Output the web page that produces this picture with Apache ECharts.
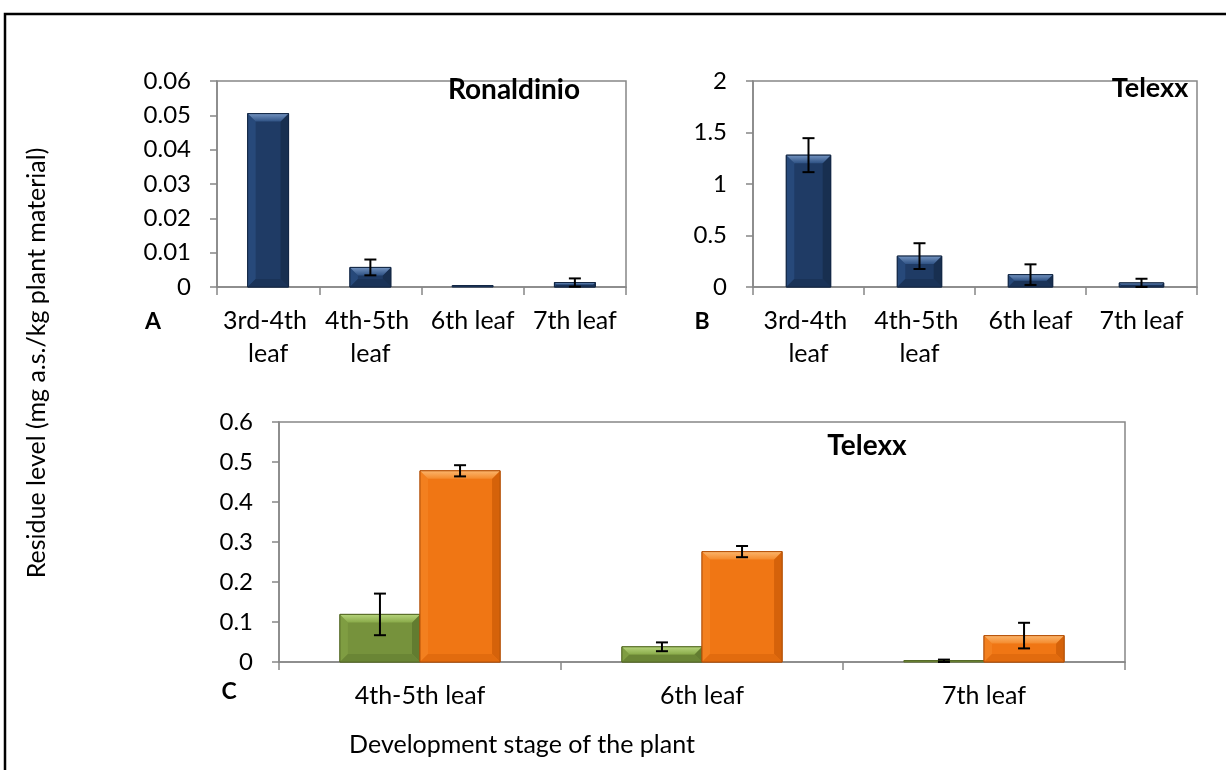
<!DOCTYPE html>
<html>
<head>
<meta charset="utf-8">
<title>Residue levels by development stage</title>
<script src="https://cdn.jsdelivr.net/npm/echarts@6/dist/echarts.min.js"></script>
<style>
  html, body { margin: 0; padding: 0; background: #ffffff; }
  #chart { width: 1226px; height: 770px; }
</style>
</head>
<body>
<div id="chart"></div>
<script>
// Panel A and B categories (leaf stages)
const stagesAB = ['3rd-4th leaf', '4th-5th leaf', '6th leaf', '7th leaf'];
// Panel A: Ronaldinio residues (mg a.s./kg) and their error half-widths
const ronaldinioValues = [0.0505, 0.0057, 0.0003, 0.0013];
const ronaldinioErrors = [0, 0.0023, 0, 0.0012];
// Panel B: Telexx residues
const telexxValues = [1.28, 0.30, 0.12, 0.04];
const telexxErrors = [0.165, 0.125, 0.10, 0.04];
// Panel C: Telexx, two treatments per stage
const stagesC = ['4th-5th leaf', '6th leaf', '7th leaf'];
const greenValues = [0.119, 0.038, 0.002];
const greenErrors = [0.052, 0.011, 0.004];
const orangeValues = [0.478, 0.276, 0.066];
const orangeErrors = [0.014, 0.014, 0.032];
// Value-axis ranges
const axisA = { min: 0, max: 0.06, interval: 0.01 };
const axisB = { min: 0, max: 2, interval: 0.5 };
const axisC = { min: 0, max: 0.6, interval: 0.1 };

const FONT = 'Lato, "Open Sans", sans-serif';
const AXIS_GREY = '#878787';

const palettes = {
  navy:   { base: '#1f3b65', topA: '#7393c0', topB: '#2f5284', left: '#27497a', right: '#182f50', bottom: '#1a3358', stroke: '#132744' },
  green:  { base: '#76923c', topA: '#b6d47c', topB: '#8aab4a', left: '#7f9d42', right: '#627c30', bottom: '#6a8535', stroke: '#566b27' },
  orange: { base: '#f07614', topA: '#fbb56c', topB: '#f48a2c', left: '#f3801f', right: '#d5620a', bottom: '#e26b0e', stroke: '#b45108' }
};

// Bevelled bar drawn through the axes' own coordinate mapping
function bevelBar(pal, widthFrac, offsetFrac) {
  return function (params, api) {
    const idx = api.value(0);
    const val = api.value(1);
    const base = api.coord([idx, 0]);
    const top = api.coord([idx, val]);
    const catW = api.size([1, 0])[0];
    const w = catW * widthFrac;
    const cx = base[0] + offsetFrac * catW;
    const x0 = cx - w / 2, x1 = cx + w / 2;
    let h = base[1] - top[1];
    if (h < 1.5) h = 1.5;
    const y1 = base[1], y0 = y1 - h;
    const b = Math.max(0, Math.min(8, h / 2, w / 5));
    const children = [
      { type: 'rect', shape: { x: x0, y: y0, width: w, height: h },
        style: { fill: pal.base, stroke: pal.stroke, lineWidth: 1 } }
    ];
    if (b >= 1) {
      children.push(
        { type: 'polygon', shape: { points: [[x0, y0], [x0 + b, y0 + b], [x0 + b, y1 - b], [x0, y1]] },
          style: { fill: pal.left } },
        { type: 'polygon', shape: { points: [[x1, y0], [x1 - b, y0 + b], [x1 - b, y1 - b], [x1, y1]] },
          style: { fill: pal.right } },
        { type: 'polygon', shape: { points: [[x0, y1], [x0 + b, y1 - b], [x1 - b, y1 - b], [x1, y1]] },
          style: { fill: pal.bottom } },
        { type: 'polygon', shape: { points: [[x0, y0], [x1, y0], [x1 - b, y0 + b], [x0 + b, y0 + b]] },
          style: { fill: new echarts.graphic.LinearGradient(0, 0, 0, 1, [
            { offset: 0, color: pal.topA }, { offset: 1, color: pal.topB }]) } },
        { type: 'rect', shape: { x: x0, y: y0, width: w, height: h },
          style: { fill: 'none', stroke: pal.stroke, lineWidth: 1 } }
      );
    }
    return { type: 'group', children: children };
  };
}

// Error bar (vertical whisker with caps)
function errorBar(offsetFrac) {
  return function (params, api) {
    const idx = api.value(0);
    const val = api.value(1);
    const err = api.value(2);
    if (!err) return null;
    const hi = api.coord([idx, val + err]);
    const lo = api.coord([idx, Math.max(val - err, 0)]);
    const catW = api.size([1, 0])[0];
    const x = hi[0] + offsetFrac * catW;
    const cap = 6;
    const st = { stroke: '#000000', lineWidth: 2 };
    return { type: 'group', children: [
      { type: 'line', shape: { x1: x, y1: hi[1], x2: x, y2: lo[1] }, style: st },
      { type: 'line', shape: { x1: x - cap, y1: hi[1], x2: x + cap, y2: hi[1] }, style: st },
      { type: 'line', shape: { x1: x - cap, y1: lo[1], x2: x + cap, y2: lo[1] }, style: st }
    ] };
  };
}

function pairs(values, errors) {
  return values.map((v, i) => [i, v, errors[i]]);
}

function catAxis(gridIndex, cats, labelWidth) {
  return {
    type: 'category', gridIndex: gridIndex, data: cats,
    axisLine: { lineStyle: { color: AXIS_GREY, width: 1.5 } },
    axisTick: { show: true, length: 8, lineStyle: { color: AXIS_GREY, width: 1.5 } },
    axisLabel: { interval: 0, color: '#000', fontFamily: FONT, fontSize: 25, margin: 17,
                 lineHeight: 33, width: labelWidth, overflow: 'break' },
    splitLine: { show: false }
  };
}
function valAxis(gridIndex, range) {
  return {
    type: 'value', gridIndex: gridIndex, min: range.min, max: range.max, interval: range.interval,
    axisLine: { show: true, lineStyle: { color: AXIS_GREY, width: 1.5 } },
    axisTick: { show: true, length: 7, lineStyle: { color: AXIS_GREY, width: 1.5 } },
    axisLabel: { color: '#000', fontFamily: FONT, fontSize: 24, margin: 26 },
    splitLine: { show: false }
  };
}

const gridBox = { show: true, borderColor: AXIS_GREY, borderWidth: 1.5, backgroundColor: 'transparent' };

function txt(text, x, y, size, bold, rotation) {
  return {
    type: 'text', x: x, y: y, rotation: rotation || 0,
    style: { text: text, fill: '#000', fontSize: size, fontWeight: bold ? 'bold' : 'normal',
             fontFamily: FONT,
             align: 'center', verticalAlign: 'middle', textAlign: 'center', textVerticalAlign: 'middle' }
  };
}

const chart = echarts.init(document.getElementById('chart'), null, { renderer: 'canvas' });

const option = {
  backgroundColor: '#ffffff',
  animation: false,
  grid: [
    Object.assign({ left: 217, top: 81, width: 409, height: 206 }, gridBox),
    Object.assign({ left: 753, top: 81, width: 444, height: 206 }, gridBox),
    Object.assign({ left: 279, top: 422, width: 846, height: 240 }, gridBox)
  ],
  xAxis: [
    catAxis(0, stagesAB, 100),
    catAxis(1, stagesAB, 108),
    catAxis(2, stagesC, 270)
  ],
  yAxis: [valAxis(0, axisA), valAxis(1, axisB), valAxis(2, axisC)],
  series: [
    { type: 'custom', xAxisIndex: 0, yAxisIndex: 0, renderItem: bevelBar(palettes.navy, 0.40, 0),
      data: pairs(ronaldinioValues, ronaldinioErrors), encode: { x: 0, y: 1 }, z: 2 },
    { type: 'custom', xAxisIndex: 0, yAxisIndex: 0, renderItem: errorBar(0),
      data: pairs(ronaldinioValues, ronaldinioErrors), encode: { x: 0, y: [1, 2] }, z: 3 },
    { type: 'custom', xAxisIndex: 1, yAxisIndex: 1, renderItem: bevelBar(palettes.navy, 0.40, 0),
      data: pairs(telexxValues, telexxErrors), encode: { x: 0, y: 1 }, z: 2 },
    { type: 'custom', xAxisIndex: 1, yAxisIndex: 1, renderItem: errorBar(0),
      data: pairs(telexxValues, telexxErrors), encode: { x: 0, y: [1, 2] }, z: 3 },
    { type: 'custom', xAxisIndex: 2, yAxisIndex: 2, renderItem: bevelBar(palettes.green, 0.284, -0.142),
      data: pairs(greenValues, greenErrors), encode: { x: 0, y: 1 }, z: 2 },
    { type: 'custom', xAxisIndex: 2, yAxisIndex: 2, renderItem: bevelBar(palettes.orange, 0.284, 0.142),
      data: pairs(orangeValues, orangeErrors), encode: { x: 0, y: 1 }, z: 2 },
    { type: 'custom', xAxisIndex: 2, yAxisIndex: 2, renderItem: errorBar(-0.142),
      data: pairs(greenValues, greenErrors), encode: { x: 0, y: [1, 2] }, z: 3 },
    { type: 'custom', xAxisIndex: 2, yAxisIndex: 2, renderItem: errorBar(0.142),
      data: pairs(orangeValues, orangeErrors), encode: { x: 0, y: [1, 2] }, z: 3 }
  ],
  graphic: [
    { type: 'rect', shape: { x: 5, y: 14, width: 1400, height: 900 },
      style: { fill: 'none', stroke: '#000', lineWidth: 2.5 }, z: 10 },
    txt('Ronaldinio', 514, 90, 28, true),
    txt('Telexx', 1150, 88, 27, true),
    txt('Telexx', 867, 446, 28, true),
    txt('A', 153, 322, 23, true),
    txt('B', 702, 322, 23, true),
    txt('C', 229, 692, 23, true),
    txt('Residue level (mg a.s./kg plant material)', 37, 363, 25, false, Math.PI / 2),
    txt('Development stage of the plant', 522, 745, 25, false)
  ]
};

chart.setOption(option);
</script>
</body>
</html>
